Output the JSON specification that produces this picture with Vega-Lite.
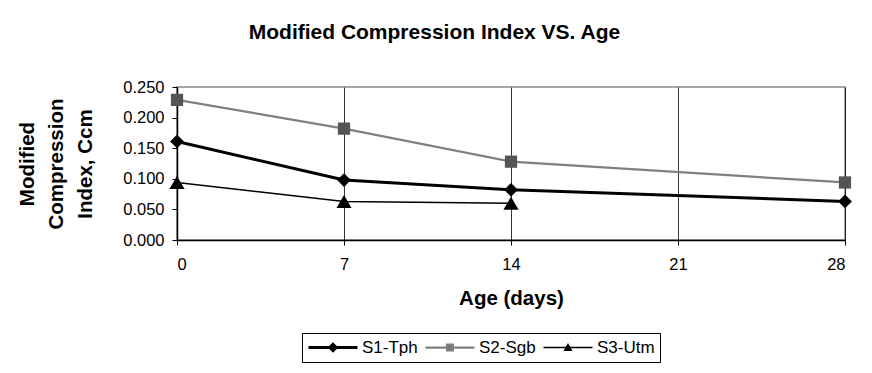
{
  "$schema": "https://vega.github.io/schema/vega-lite/v6.json",
  "width": 668,
  "height": 153,
  "autosize": "none",
  "padding": {"left": 177, "top": 87, "right": 27, "bottom": 133},
  "background": "white",
  "config": {
    "font": "Liberation Sans",
    "view": {"stroke": "#8a8a8a", "strokeWidth": 1.5}
  },
  "title": {
    "text": "Modified Compression Index VS. Age",
    "fontSize": 21,
    "fontWeight": "bold",
    "font": "Liberation Sans",
    "color": "black",
    "anchor": "middle",
    "frame": "bounds",
    "offset": 36
  },
  "data": {
    "values": [
      {"series": "S1-Tph", "age": 0, "value": 0.161},
      {"series": "S1-Tph", "age": 7, "value": 0.098},
      {"series": "S1-Tph", "age": 14, "value": 0.082},
      {"series": "S1-Tph", "age": 28, "value": 0.063},
      {"series": "S2-Sgb", "age": 0, "value": 0.229},
      {"series": "S2-Sgb", "age": 7, "value": 0.182},
      {"series": "S2-Sgb", "age": 14, "value": 0.128},
      {"series": "S2-Sgb", "age": 28, "value": 0.094},
      {"series": "S3-Utm", "age": 0, "value": 0.094},
      {"series": "S3-Utm", "age": 7, "value": 0.063},
      {"series": "S3-Utm", "age": 14, "value": 0.060}
    ]
  },
  "encoding": {
    "x": {
      "field": "age",
      "type": "quantitative",
      "scale": {"domain": [0, 28], "nice": false, "zero": false},
      "axis": {
        "values": [0, 7, 14, 21, 28],
        "title": "Age (days)",
        "titleFontSize": 20.5,
        "titleFontWeight": "bold",
        "titleColor": "black",
        "titleY": 58,
        "titleBaseline": "middle",
        "labelFontSize": 16.5,
        "labelColor": "black",
        "labelPadding": 11,
        "tickSize": 5,
        "tickColor": "black",
        "domainColor": "black",
        "domainWidth": 1.5,
        "grid": true,
        "gridColor": "black",
        "gridWidth": 0.8,
        "gridOpacity": 1
      }
    },
    "y": {
      "field": "value",
      "type": "quantitative",
      "scale": {"domain": [0, 0.25], "nice": false},
      "axis": {
        "values": [0, 0.05, 0.1, 0.15, 0.2, 0.25],
        "format": ".3f",
        "title": ["Modified", "Compression", "Index, Ccm"],
        "titleFontSize": 20.5,
        "titleFontWeight": "bold",
        "titleColor": "black",
        "titleLineHeight": 29,
        "titleAngle": 270,
        "titleAlign": "center",
        "titleBaseline": "middle",
        "titleX": -150,
        "labelFontSize": 16.5,
        "labelColor": "black",
        "labelPadding": 8,
        "tickSize": 5,
        "tickColor": "black",
        "domainColor": "black",
        "domainWidth": 1.5,
        "grid": false
      }
    }
  },
  "layer": [
    {
      "mark": {"type": "line"},
      "encoding": {
        "color": {
          "field": "series",
          "type": "nominal",
          "scale": {"domain": ["S1-Tph", "S2-Sgb", "S3-Utm"], "range": ["#000000", "#808080", "#000000"]},
          "legend": {
            "title": null,
            "orient": "none",
            "legendX": 125,
            "legendY": 246,
            "direction": "horizontal",
            "columns": 3,
            "padding": 5,
            "strokeColor": "black",
            "fillColor": "white",
            "labelFontSize": 17,
            "labelColor": "black",
            "labelOffset": 3,
            "columnPadding": 6,
            "symbolSize": 2400,
            "clipHeight": 19,
            "encode": {
              "symbols": {
                "update": {
                  "shape": {"signal": "datum.value === 'S1-Tph' ? 'M-1,0H1M0,-0.13L0.13,0L0,0.13L-0.13,0Z' : datum.value === 'S2-Sgb' ? 'M-1,0H1M-0.12,-0.12H0.12V0.12H-0.12Z' : 'M-1,0H1M0,-0.12L0.13,0.11H-0.13Z'"},
                  "stroke": {"signal": "datum.value === 'S2-Sgb' ? '#707070' : '#000000'"},
                  "fill": {"signal": "datum.value === 'S2-Sgb' ? '#555555' : '#000000'"},
                  "strokeWidth": {"signal": "datum.value === 'S1-Tph' ? 2.5 : datum.value === 'S2-Sgb' ? 1.5 : 2.2"},
                  "opacity": {"value": 1},
                  "fillOpacity": {"value": 1},
                  "strokeOpacity": {"value": 1}
                }
              }
            }
          }
        },
        "strokeWidth": {
          "field": "series",
          "type": "nominal",
          "scale": {"domain": ["S1-Tph", "S2-Sgb", "S3-Utm"], "range": [3, 1.5, 2.8]},
          "legend": null
        }
      }
    },
    {
      "transform": [{"filter": "datum.series === 'S1-Tph'"}],
      "mark": {"type": "point", "shape": "diamond", "filled": true, "opacity": 1, "size": 190, "color": "#000000"}
    },
    {
      "transform": [{"filter": "datum.series === 'S2-Sgb'"}],
      "mark": {"type": "point", "shape": "square", "filled": true, "opacity": 1, "size": 150, "color": "#555555"}
    },
    {
      "transform": [{"filter": "datum.series === 'S3-Utm'"}],
      "mark": {"type": "point", "shape": "triangle-up", "filled": true, "opacity": 1, "size": 230, "color": "#000000"}
    }
  ]
}
